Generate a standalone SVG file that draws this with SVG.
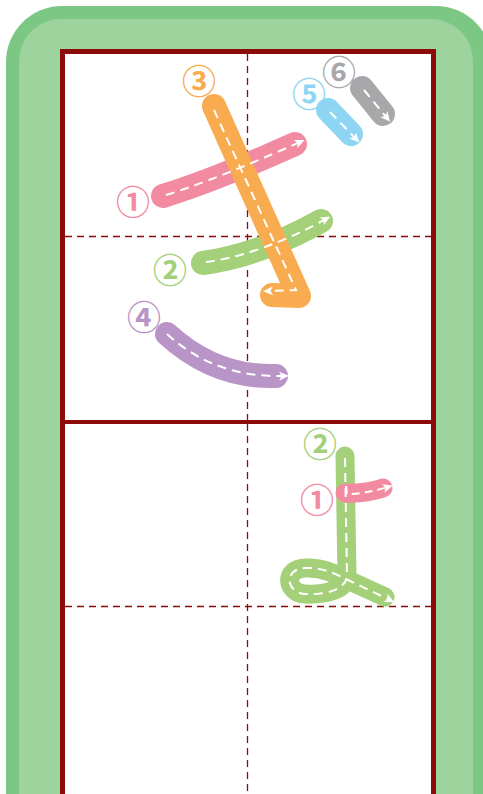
<svg xmlns="http://www.w3.org/2000/svg" width="483" height="794" viewBox="0 0 483 794">
<style>
.body{fill:none;stroke-linecap:round;stroke-linejoin:round;stroke-width:24}
.thin{stroke-width:19}
.dash{fill:none;stroke:#fff;stroke-width:2;stroke-dasharray:9 6;marker-end:url(#ah)}
.num{font-family:"Noto Sans CJK JP","DejaVu Sans",sans-serif;font-weight:bold;font-size:34px;text-anchor:middle;dominant-baseline:central}
.grid{stroke:#8c0a0a;stroke-width:1.3;stroke-dasharray:7 5;fill:none}
</style>
<defs>
<marker id="ah" markerWidth="10" markerHeight="10" refX="5" refY="5" orient="auto" markerUnits="userSpaceOnUse">
<path d="M0,0.5 L10,5 L0,9.5 L2.5,5 Z" fill="#fff"/>
</marker>
</defs>
<g id="frame">
<rect x="6" y="6" width="486" height="900" rx="56" fill="#7dc784"/>
<rect x="19" y="19" width="454" height="880" rx="42" fill="#9dd39c"/>
<rect x="62.5" y="51.5" width="371" height="745" fill="#fff" stroke="#8c0a0a" stroke-width="5"/>
<line x1="62" y1="422" x2="434" y2="422" stroke="#8c0a0a" stroke-width="4"/>
<line class="grid" x1="247.5" y1="54" x2="247.5" y2="420"/>
<line class="grid" x1="65" y1="236.5" x2="431" y2="236.5"/>
<line class="grid" x1="247.5" y1="424" x2="247.5" y2="792"/>
<line class="grid" x1="65" y1="606.5" x2="431" y2="606.5"/>
</g>
<g id="connectors">
<g id="ki-bodies">
<path class="body" stroke="#f28ba1" d="M163,196 Q215,180 295,144"/>
<path class="body" stroke="#a3d078" d="M203,263 Q260,255 321,221"/>
<path class="body" stroke="#f9ab4f" d="M214,106 L299,296 L272,295"/>
<path class="body" stroke="#b994c6" d="M167,334 Q215,378 276,376"/>
<path class="body" stroke="#8dd5f3" d="M328,110 L351,134"/>
<path class="body" stroke="#a8a8ab" d="M362,88 L383,114"/>
</g>
<g id="ki-dashes">
<path class="dash" d="M166,195 Q215,180 300,142"/>
<path class="dash" d="M206,262 Q260,255 326,219"/>
<path class="dash" d="M214,110 L296,290 L268,291"/>
<path class="dash" d="M167,334 Q215,378 284,376"/>
<path class="dash" d="M330,112 L356,139"/>
<path class="dash" d="M364,90 L387,118"/>
</g>
<g id="yo-bodies">
<path class="body thin" stroke="#a3d078" d="M345,456 L347,576 C 346,590 325,595 305,594 C 286,593 283,569 305,568 C 322,567 336,574 350,581 L 385,597"/>
<path class="body thin" stroke="#f28ba1" d="M345,493 Q365,494 383,488"/>
</g>
<g id="yo-dashes">
<path class="dash" d="M345,458 L347,576 C 346,590 325,595 305,594 C 286,593 283,569 305,568 C 322,567 336,574 350,581 L 390,600"/>
<path class="dash" style="stroke-dasharray:8 5" d="M346,486 L347,494 Q365,494 388,487"/>
</g>
</g>
<g id="labels">
<text class="num" x="199" y="79" fill="#f9ab4f">③</text>
<text class="num" x="309" y="92" fill="#8dd5f3">⑤</text>
<text class="num" x="339" y="70" fill="#a8a8ab">⑥</text>
<text class="num" x="133" y="200" fill="#f28ba1">①</text>
<text class="num" x="170" y="268" fill="#a3d078">②</text>
<text class="num" x="144" y="315" fill="#b994c6">④</text>
<text class="num" x="320" y="442" fill="#a3d078">②</text>
<text class="num" x="317" y="498" fill="#f28ba1">①</text>
</g>
</svg>
